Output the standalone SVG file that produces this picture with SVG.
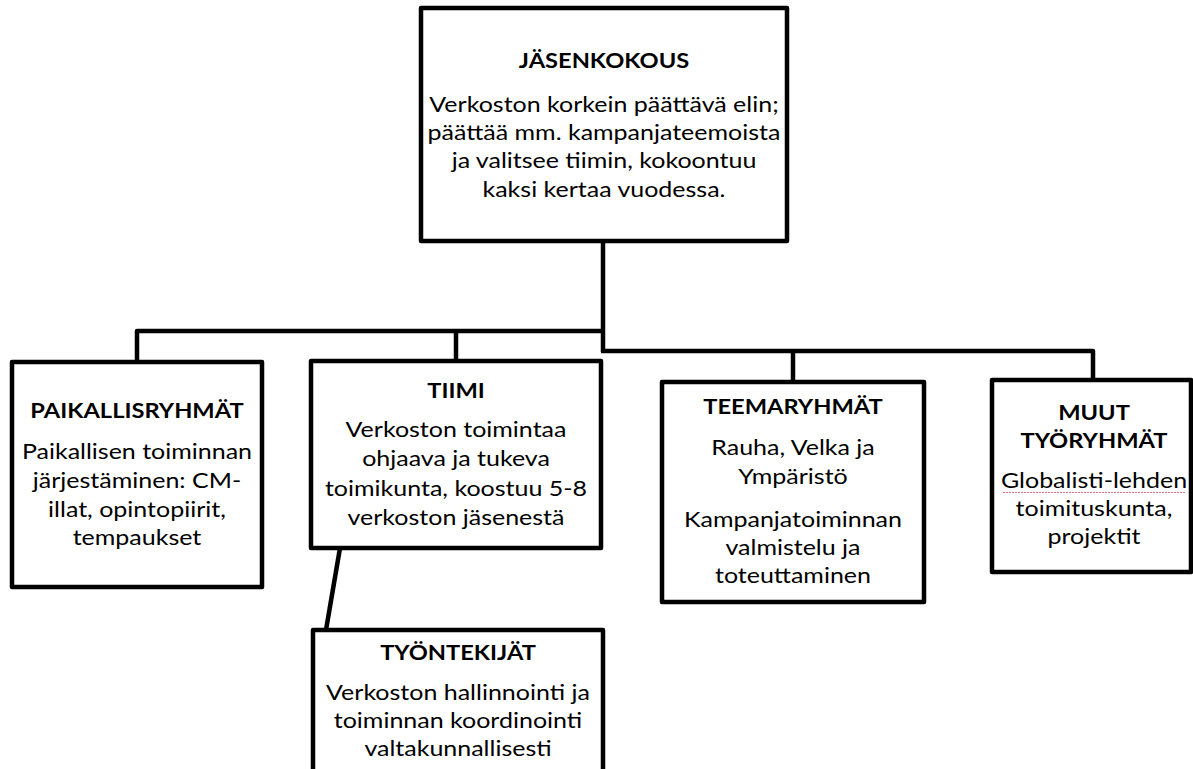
<svg xmlns="http://www.w3.org/2000/svg" width="1193" height="769" viewBox="0 0 1193 769">
<style>
.box{fill:#fff;stroke:#000;stroke-width:4.5;stroke-linejoin:round}
.ln{fill:none;stroke:#000;stroke-width:4.5;stroke-linejoin:round;stroke-linecap:butt}
text{font-family:Lato,"Liberation Sans",sans-serif;font-size:21px;fill:#000;text-anchor:middle}
.t{font-weight:bold;font-size:21.5px}
</style>
<rect width="1193" height="769" fill="#fff"/>
<g id="connectors">
<path class="ln" d="M603,241 V352"/>
<path class="ln" d="M137,362 V331 H605"/>
<path class="ln" d="M456,331 V361"/>
<path class="ln" d="M601,351 H1093 V380"/>
<path class="ln" d="M793,351 V382"/>
<path class="ln" d="M340,548 L326,630"/>
</g>
<g id="jasenkokous">
<rect class="box" x="421" y="8" width="366" height="233"/>
<text class="t" transform="translate(604 0) scale(1.1 1)" x="0" y="68">JÄSENKOKOUS</text>
<g transform="translate(604 0) scale(1.19 1)">
<text x="0" y="112">Verkoston korkein päättävä elin;</text>
<text x="0" y="140">päättää mm. kampanjateemoista</text>
<text x="0" y="168">ja valitsee tiimin, kokoontuu</text>
<text x="0" y="197">kaksi kertaa vuodessa.</text>
</g>
</g>
<g id="paikallisryhmat">
<rect class="box" x="12" y="362" width="250" height="225"/>
<text class="t" transform="translate(137 0) scale(1.1 1)" x="0" y="418">PAIKALLISRYHMÄT</text>
<g transform="translate(137 0) scale(1.19 1)">
<text x="0" y="459">Paikallisen toiminnan</text>
<text x="0" y="488">järjestäminen: CM-</text>
<text x="0" y="517">illat, opintopiirit,</text>
<text x="0" y="545">tempaukset</text>
</g>
</g>
<g id="tiimi">
<rect class="box" x="311" y="361" width="290" height="187"/>
<text class="t" transform="translate(456 0) scale(1.1 1)" x="0" y="398">TIIMI</text>
<g transform="translate(456 0) scale(1.19 1)">
<text x="0" y="437">Verkoston toimintaa</text>
<text x="0" y="466">ohjaava ja tukeva</text>
<text x="0" y="496">toimikunta, koostuu 5-8</text>
<text x="0" y="525">verkoston jäsenestä</text>
</g>
</g>
<g id="tyontekijat">
<rect class="box" x="313" y="630" width="290" height="160"/>
<text class="t" transform="translate(458 0) scale(1.1 1)" x="0" y="660">TYÖNTEKIJÄT</text>
<g transform="translate(458 0) scale(1.19 1)">
<text x="0" y="700">Verkoston hallinnointi ja</text>
<text x="0" y="728">toiminnan koordinointi</text>
<text x="0" y="756">valtakunnallisesti</text>
</g>
</g>
<g id="teemaryhmat">
<rect class="box" x="662" y="382" width="262" height="220"/>
<text class="t" transform="translate(793 0) scale(1.1 1)" x="0" y="414">TEEMARYHMÄT</text>
<g transform="translate(793 0) scale(1.19 1)">
<text x="0" y="455">Rauha, Velka ja</text>
<text x="0" y="484">Ympäristö</text>
<text x="0" y="527">Kampanjatoiminnan</text>
<text x="0" y="555">valmistelu ja</text>
<text x="0" y="583">toteuttaminen</text>
</g>
</g>
<g id="muut">
<rect class="box" x="992" y="380" width="199" height="192"/>
<g transform="translate(1094 0) scale(1.1 1)">
<text class="t" x="0" y="420">MUUT</text>
<text class="t" x="0" y="448">TYÖRYHMÄT</text>
</g>
<g transform="translate(1094 0) scale(1.19 1)">
<text x="0" y="488">Globalisti-lehden</text>
<text x="0" y="516">toimituskunta,</text>
<text x="0" y="544">projektit</text>
</g>
<path d="M1003,492.5 H1185" stroke="#e8707f" stroke-width="1.2" stroke-dasharray="2 1" fill="none"/>
</g>
</svg>
